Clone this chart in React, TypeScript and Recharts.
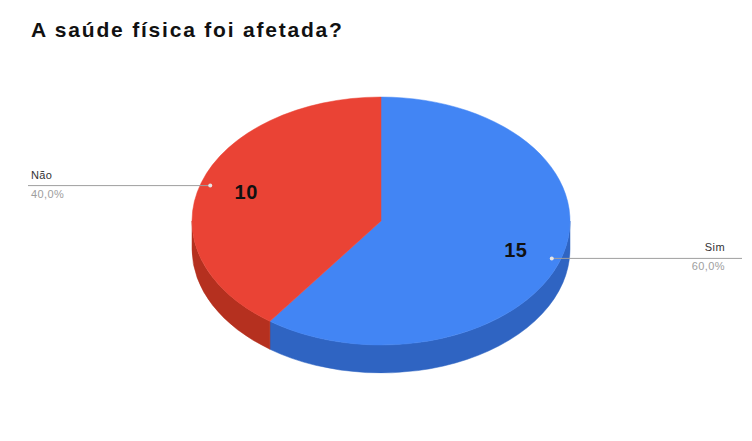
import React from 'react';
import { PieChart, Pie, Cell } from 'recharts';

const categories = ['Sim', 'Não'];
const values = [15, 10];
const topColors = ['#4285f4', '#ea4335'];
const sideColors = ['#2f64c2', '#b5301f'];

const data = categories.map((name, i) => ({ name, value: values[i] }));

// flattening of the disc and thickness of the rim, in px
const TILT = 0.656;
const DEPTH = 28;
const RAD = Math.PI / 180;

function pt(cx: number, cy: number, r: number, deg: number, dy = 0) {
  return [cx + r * Math.cos(deg * RAD), cy - r * TILT * Math.sin(deg * RAD) + dy];
}

function Slice3D(props: any) {
  const { cx, cy, outerRadius: r, startAngle, endAngle, fill } = props;
  const name = props.name ?? props.payload?.name;
  const side = sideColors[Math.max(0, categories.indexOf(name))];
  const lo = Math.min(startAngle, endAngle);
  const hi = Math.max(startAngle, endAngle);
  const rx = r;
  const ry = r * TILT;

  // front-facing parts of the rim
  const walls: string[] = [];
  for (let k = -2; k <= 2; k++) {
    const a = Math.max(lo, 180 + 360 * k);
    const b = Math.min(hi, 360 + 360 * k);
    if (b > a) {
      const [x1, y1] = pt(cx, cy, r, a);
      const [x2, y2] = pt(cx, cy, r, b);
      const big = b - a > 180 ? 1 : 0;
      walls.push(
        `M${x1},${y1} A${rx},${ry} 0 ${big} 0 ${x2},${y2} L${x2},${y2 + DEPTH} A${rx},${ry} 0 ${big} 1 ${x1},${y1 + DEPTH} Z`
      );
    }
  }

  const [sx, sy] = pt(cx, cy, r, startAngle);
  const [ex, ey] = pt(cx, cy, r, endAngle);
  const big = hi - lo > 180 ? 1 : 0;
  const sweep = endAngle < startAngle ? 1 : 0;
  const top = `M${cx},${cy} L${sx},${sy} A${rx},${ry} 0 ${big} ${sweep} ${ex},${ey} Z`;

  return (
    <g>
      {walls.map((d, i) => (
        <path key={i} d={d} fill={side} stroke={side} strokeWidth={0.5} />
      ))}
      <path d={top} fill={fill} stroke={fill} strokeWidth={0.5} />
    </g>
  );
}

function SliceLabel(props: any) {
  const { cx, cy, outerRadius: r, midAngle, value, percent, name } = props;
  const [ix, iy] = pt(cx, cy, r * 0.75, midAngle);
  const [dx, dy0] = pt(cx, cy, r * 0.95, midAngle);
  const dy = dy0 + 1;
  const left = Math.cos(midAngle * RAD) < 0;
  const endX = left ? 28 : 742;
  const textX = left ? 31 : 725;
  const anchor = left ? 'start' : 'end';
  return (
    <g>
      <text x={ix} y={iy} textAnchor="middle" dominantBaseline="central" fontSize={20} fontWeight="bold" letterSpacing={0.5} fill="#111">
        {value}
      </text>
      <line x1={dx} y1={dy} x2={endX} y2={dy} stroke="#9e9e9e" strokeWidth={1} />
      <circle cx={dx} cy={dy} r={2} fill="#e6e6e6" />
      <text x={textX} y={dy - 7} textAnchor={anchor} fontSize={11} letterSpacing={0.4} fill="#333">
        {name}
      </text>
      <text x={textX} y={dy + 12} textAnchor={anchor} fontSize={11} letterSpacing={0.4} fill="#9e9e9e">
        {(percent * 100).toFixed(1).replace('.', ',')}%
      </text>
    </g>
  );
}

export default function App() {
  return (
    <div style={{ position: 'absolute', left: 0, top: 0, width: 752, height: 441, background: '#fff', fontFamily: '"Liberation Sans", Arial, sans-serif' }}>
      <div style={{ position: 'absolute', left: 31, top: 19, fontSize: 21, lineHeight: '21px', fontWeight: 'bold', letterSpacing: 1.8, color: '#111', whiteSpace: 'nowrap' }}>
        A saúde física foi afetada?
      </div>
      <PieChart width={752} height={441} margin={{ top: 0, right: 0, bottom: 0, left: 0 }}>
        <Pie
          data={data}
          dataKey="value"
          nameKey="name"
          cx={381}
          cy={221}
          outerRadius={189}
          startAngle={90}
          endAngle={-270}
          stroke="none"
          shape={Slice3D}
          activeShape={Slice3D}
          inactiveShape={Slice3D}
          label={SliceLabel}
          labelLine={false}
          isAnimationActive={false}
        >
          {data.map((d, i) => (
            <Cell key={d.name} fill={topColors[i]} />
          ))}
        </Pie>
      </PieChart>
    </div>
  );
}
